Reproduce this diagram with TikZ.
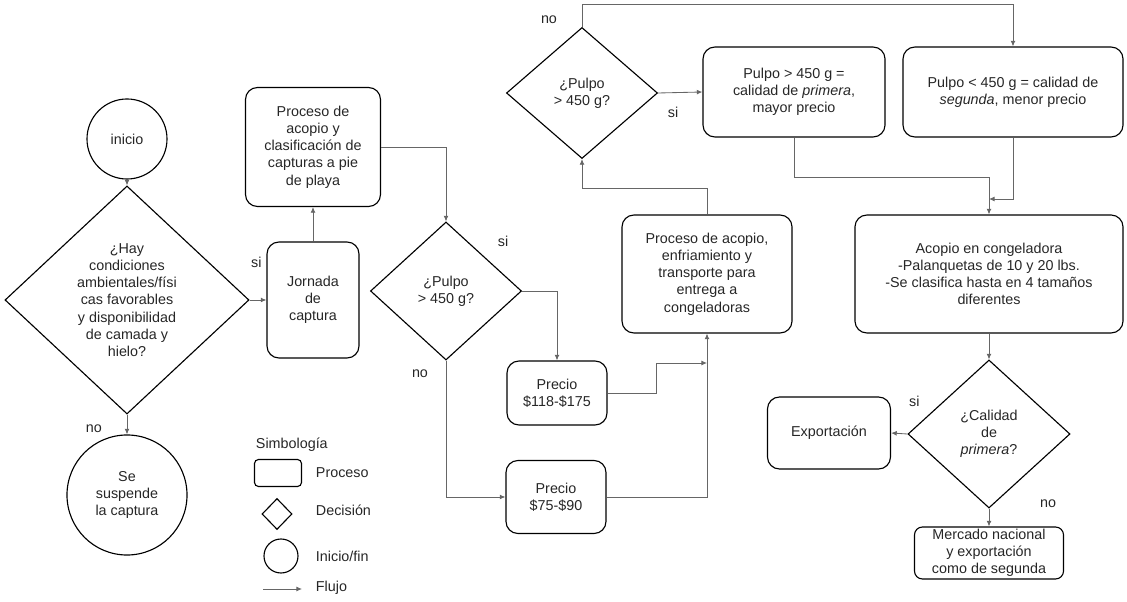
\documentclass[tikz,border=0pt]{standalone}
\usepackage{fontspec}
\setmainfont{Liberation Sans}
\usetikzlibrary{shapes.geometric,arrows.meta}

\begin{document}
\begin{tikzpicture}[x=0.025cm,y=-0.025cm,
  every node/.style={font=\fontsize{10.2}{12.2}\selectfont,text=black!85,align=center},
  proc/.style={draw=black,line width=0.8pt,rounded corners=3mm,inner sep=2pt},
  decis/.style={draw=black,diamond,line width=0.8pt,inner sep=0pt},
  term/.style={draw=black,circle,line width=0.8pt,inner sep=0pt},
  flow/.style={draw=black!60,line width=0.6pt,-{Latex[length=4pt,width=3.5pt]}}]
\useasboundingbox (0,0) rectangle (1127,602);

\node[term,minimum size=2cm] (ini) at (127,139) {inicio};
\node[decis,minimum width=6.1cm,minimum height=5.7cm] (cond) at (127,300) {¿Hay\\condiciones\\ambientales/físi\\cas favorables\\y disponibilidad\\de camada y\\hielo?};
\node[term,minimum size=3cm] (susp) at (127,495) {Se\\suspende\\la captura};
\node[proc,minimum width=2.3cm,minimum height=2.9cm] (jorn) at (313,300) {Jornada\\de\\captura};
\node[proc,minimum width=3.375cm,minimum height=2.975cm] (acop1) at (313,147) {Proceso de\\acopio y\\clasificación de\\capturas a pie\\de playa};
\node[decis,minimum width=3.775cm,minimum height=3.45cm] (peso1) at (446,291) {¿Pulpo\\> 450 g?};
\node[proc,minimum width=2.5cm,minimum height=1.6cm] (prec1) at (557,393) {Precio\\\$118-\$175};
\node[proc,minimum width=2.5cm,minimum height=1.825cm] (prec2) at (556,497) {Precio\\\$75-\$90};
\node[proc,minimum width=4.25cm,minimum height=2.95cm] (acop2) at (707,274) {Proceso de acopio,\\enfriamiento y\\transporte para\\entrega a\\congeladoras};
\node[decis,minimum width=3.775cm,minimum height=3.275cm] (peso2) at (582,93) {¿Pulpo\\> 450 g?};
\node[proc,minimum width=4.55cm,minimum height=2.25cm] (prim) at (794,92) {Pulpo > 450 g =\\calidad de \emph{primera},\\mayor precio};
\node[proc,minimum width=5.5cm,minimum height=2.25cm] (segu) at (1013,92) {Pulpo < 450 g = calidad de\\\emph{segunda}, menor precio};
\node[proc,minimum width=6.7cm,minimum height=2.95cm] (cong) at (989,274) {Acopio en congeladora\\-Palanquetas de 10 y 20 lbs.\\-Se clasifica hasta en 4 tamaños\\diferentes};
\node[decis,minimum width=4.05cm,minimum height=3.7cm] (calid) at (989,434) {¿Calidad\\de\\\emph{primera}?};
\node[proc,minimum width=3.075cm,minimum height=1.8cm] (expo) at (829,433) {Exportación};
\node[proc,minimum width=3.725cm,minimum height=1.3cm,inner ysep=0pt,rounded corners=2mm] (merc) at (989,553) {Mercado nacional\\y exportación\\como de segunda};

\coordinate (j1) at (707,363);
\coordinate (j2) at (989,199);

\draw[flow] (ini) -- (cond);
\draw[flow] (cond.east) -- node[pos=0.4,above=0.68cm] {si} (jorn.west);
\draw[flow] (cond.south) -- node[pos=0.7,left=0.5cm] {no} (susp.north);
\draw[flow] (jorn.north) -- (acop1.south);
\draw[flow] (acop1.east) -| (peso1.north);
\draw[flow] (peso1.east) node[xshift=-0.475cm,yshift=1.25cm] {si} -| (prec1.north);
\draw[flow] (peso1.south) node[xshift=-0.65cm,yshift=-0.325cm] {no} |- (prec2.west);
\draw[flow] (prec1.east) -- (656,393) |- (j1);
\draw[flow] (prec2.east) -| (acop2.south);
\draw[flow] (acop2.north) -- ++(0,-26) -| (peso2.south);
\draw[flow] (peso2.east) node[xshift=0.375cm,yshift=-0.475cm] {si} -- (prim.west);
\draw[flow] (peso2.north) node[xshift=-0.825cm,yshift=0.175cm] {no} -- ++(0,-22) -| (segu.north);
\draw[flow] (prim.south) -- ++(0,40) -| (cong.north);
\draw[flow] (segu.south) |- (j2);
\draw[flow] (cong.south) -- (calid.north);
\draw[flow] (calid.west) node[xshift=0.175cm,yshift=0.825cm] {si} -- (expo.east);
\draw[flow] (calid.south) node[xshift=1.475cm,yshift=0.125cm] {no} -- (merc.north);

\node[anchor=west] (simb) at (251,445) {Simbología};
\node[proc,rounded corners=1mm,minimum width=1.175cm,minimum height=0.675cm] (lproc) at (278,473) {};
\node[anchor=west] (tproc) at (311,473) {Proceso};
\node[decis,minimum width=0.75cm,minimum height=0.775cm] (ldec) at (277,514) {};
\node[anchor=west] (tdec) at (311,510) {Decisión};
\node[term,minimum size=0.85cm] (lterm) at (281,556) {};
\node[anchor=west] (tterm) at (311,556) {Inicio/fin};
\coordinate (lfa) at (263,589);
\coordinate (lfb) at (302,589);
\draw[flow] (lfa) -- (lfb);
\node[anchor=west] (tflow) at (311,588) {Flujo};
\end{tikzpicture}
\end{document}
